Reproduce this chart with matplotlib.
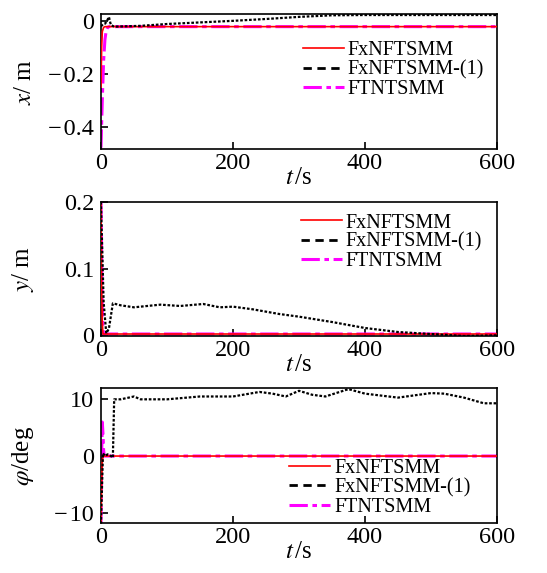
import numpy as np
import matplotlib.pyplot as plt
from matplotlib.lines import Line2D

plt.rcParams['font.family'] = ['Liberation Serif', 'DejaVu Serif']
plt.rcParams['mathtext.fontset'] = 'stix'

# ---- datos ----
# x (m)
t_x_red = [0, 1, 2, 4, 6, 600]
x_red = [-0.25, -0.10, -0.04, -0.024, -0.021, -0.021]
t_x_blk = [0, 3, 6, 9, 12, 15, 20, 60, 100, 150, 200, 250, 300, 350, 400, 500, 600]
x_blk = [-0.02, -0.012, -0.01, 0.0, 0.016, -0.015, -0.021, -0.018, -0.011, -0.005, 0.001, 0.008, 0.016, 0.022, 0.023, 0.023, 0.023]
t_x_mag = [0, 2, 4, 6, 8, 10, 12, 600]
x_mag = [-0.48, -0.30, -0.15, -0.07, -0.035, -0.024, -0.021, -0.021]

# y (m)
t_y_red = [0, 1, 2, 3, 600]
y_red = [0.2, 0.08, 0.02, 0.002, 0.002]
t_y_blk = [0, 4, 8, 12, 18, 30, 50, 70, 90, 120, 155, 180, 200, 230, 270, 300, 350, 400, 450, 500, 550, 600]
y_blk = [0.2, 0.05, 0.003, 0.01, 0.048, 0.045, 0.042, 0.044, 0.046, 0.044, 0.047, 0.042, 0.043, 0.039, 0.032, 0.028, 0.02, 0.011, 0.005, 0.002, -0.001, 0.0]
t_y_mag = [0, 1, 2, 3, 4, 600]
y_mag = [0.2, 0.12, 0.04, 0.01, 0.002, 0.002]

# phi (deg)
t_p_red = [0, 1, 2, 3, 600]
p_red = [-12, -5, -1, 0, 0]
t_p_blk = [0, 3, 6, 10, 15, 18, 20, 30, 50, 60, 100, 150, 200, 240, 260, 280, 300, 320, 340, 375, 400, 450, 500, 520, 550, 580, 600]
p_blk = [-12, 0.5, 0, 0.3, 0, -0.3, 10, 10.0, 10.5, 10.0, 10.0, 10.5, 10.5, 11.3, 11.0, 10.5, 11.5, 10.8, 10.5, 11.8, 11.0, 10.3, 11.1, 11.0, 10.3, 9.3, 9.3]
t_p_mag = [0, 1, 2, 3, 4, 5, 600]
p_mag = [-12, 0, 6, 4, 1, 0, 0]

labels = ['FxNFTSMM', 'FxNFTSMM-(1)', 'FTNTSMM']
ylabels = [r'$x$/ m', r'$y$/ m', r'$\varphi$/deg']

fig = plt.figure(figsize=(5.47, 5.73), dpi=100)
pos = [[0.1846, 0.740, 0.724, 0.2356],
       [0.1846, 0.4136, 0.724, 0.234],
       [0.1846, 0.0873, 0.724, 0.2356]]
leg_anchor = [(0.509, 0.585), (0.504, 0.70), (0.474, 0.26)]

series = [
    (t_x_red, x_red, t_x_blk, x_blk, t_x_mag, x_mag),
    (t_y_red, y_red, t_y_blk, y_blk, t_y_mag, y_mag),
    (t_p_red, p_red, t_p_blk, p_blk, t_p_mag, p_mag),
]
ylims = [(-0.485, 0.027), (-0.001, 0.2), (-11.8, 12)]
yticks = [[-0.4, -0.2, 0], [0, 0.1, 0.2], [-10, 0, 10]]
yticklabels = [['\u2212\u200a0.4', '\u2212\u200a0.2', '0'], ['0', '0.1', '0.2'], ['\u2212\u200a10', '0', '10']]

mag_ls = (0, (6, 1.5, 1.5, 1.5))
handles = [Line2D([], [], color='red', lw=1.2),
           Line2D([], [], color='black', lw=2.0, ls=(0, (3, 2))),
           Line2D([], [], color='#ff00ff', lw=2.2, ls=mag_ls)]

for i in range(3):
    ax = fig.add_axes(pos[i])
    tr, vr, tb, vb, tm, vm = series[i]
    ax.plot(tm, vm, color='#ff00ff', lw=2.2, ls=mag_ls, zorder=2)
    ax.plot(tr, vr, color='red', lw=1.2, zorder=3)
    ax.plot(tb, vb, color='black', lw=1.6, ls=(0, (1.2, 0.8)), zorder=4)
    ax.set_xlim(0, 600)
    ax.set_ylim(*ylims[i])
    ax.set_xticks([0, 200, 400, 600])
    ax.set_yticks(yticks[i])
    ax.set_yticklabels(yticklabels[i])
    ax.tick_params(direction='in', labelsize=17.5, length=5, width=1.2)
    ax.tick_params(axis='x', pad=3)
    ax.tick_params(axis='y', pad=5)
    for s in ax.spines.values():
        s.set_linewidth(1.2)
    ax.set_xlabel(r'$t\,$/s', fontsize=18, labelpad=-5)
    ax.set_ylabel(ylabels[i], fontsize=18)
    ax.yaxis.set_label_coords(-0.165, 0.5)

    ax.legend(handles, labels, loc='center left', bbox_to_anchor=leg_anchor[i],
              frameon=False, fontsize=14.5, handlelength=2.05, handletextpad=0.2,
              labelspacing=0.0, borderpad=0.0, borderaxespad=0.0)

fig.savefig('out.png', dpi=100)
